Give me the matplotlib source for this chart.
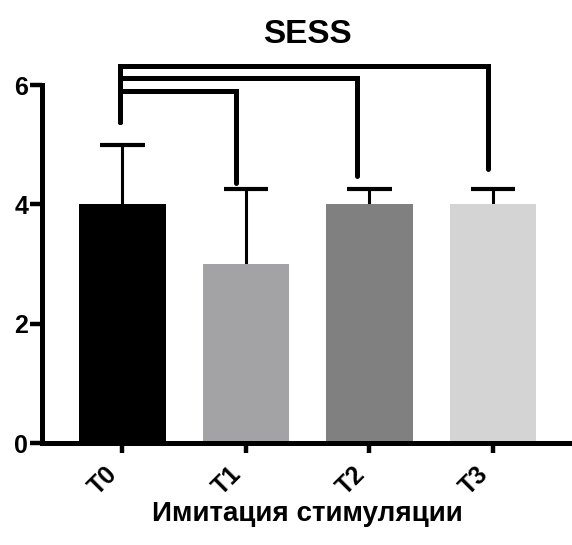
import matplotlib
matplotlib.use("Agg")
import matplotlib.pyplot as plt

plt.rcParams['font.family'] = ['Liberation Sans', 'DejaVu Sans']

categories = ["T0", "T1", "T2", "T3"]
means = [4.0, 3.0, 4.0, 4.0]
err_upper = [1.0, 1.25, 0.25, 0.25]
colors = ["#000000", "#a3a3a5", "#808080", "#d4d4d4"]
yticks = [0, 2, 4, 6]
title = "SESS"
xlabel = "Имитация стимуляции"

# significance brackets: (left x, right x, bar height, left drop, right drop)
brackets = [
    (-0.02, 0.92, 5.90, 5.38, 4.36),
    (-0.02, 1.90, 6.12, 5.38, 4.48),
    (-0.02, 2.96, 6.32, 5.38, 4.60),
]

fig = plt.figure(figsize=(5.72, 5.45), dpi=100)
ax = fig.add_axes([0.0734, 0.187, 0.9266, 0.657])

x = list(range(len(categories)))
tops = [m + e for m, e in zip(means, err_upper)]
ax.bar(x, means, width=0.70, color=colors, edgecolor='none', zorder=2)
ax.vlines(x, means, tops, color='black', lw=2.2, zorder=1)
ax.hlines(tops, [i - 0.18 for i in x], [i + 0.18 for i in x],
          color='black', lw=3.0, zorder=1)

for (x0, x1, h, d0, d1) in brackets:
    ax.plot([x0, x0, x1, x1], [d0, h, h, d1], color='black', lw=3.6,
            solid_capstyle='round', solid_joinstyle='miter', clip_on=False, zorder=3)

ax.set_xlim(-0.65, 3.64)
ax.set_ylim(0, 6)
ax.set_yticks(yticks)
ax.set_yticklabels([str(t) for t in yticks], fontsize=18, fontweight='bold')
ax.set_xticks(x)
ax.set_xticklabels(categories, fontsize=18, fontweight='bold', rotation=45,
                   ha='right', va='top')

for s in ['top', 'right']:
    ax.spines[s].set_visible(False)
for s in ['left', 'bottom']:
    ax.spines[s].set_linewidth(3.6)
ax.tick_params(axis='y', length=9, width=3.2, pad=1)
ax.tick_params(axis='x', length=7.5, width=3.2, pad=6)

ax.set_title(title, fontsize=24, fontweight='bold', pad=30)
ax.set_xlabel(xlabel, fontsize=20, fontweight='bold', labelpad=1)

fig.savefig("out.png", dpi=100)
